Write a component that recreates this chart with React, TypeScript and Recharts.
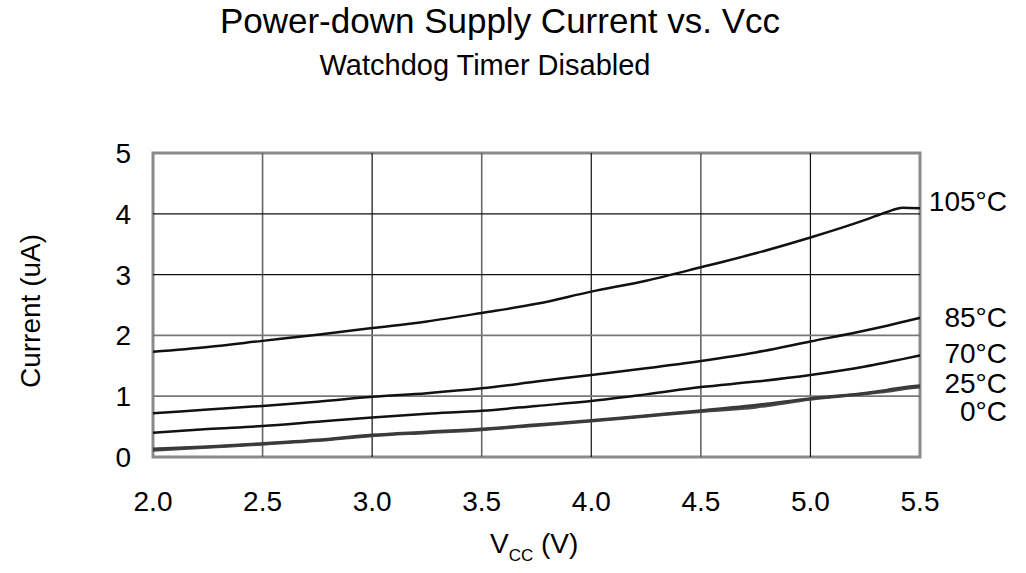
import React from 'react';
import { LineChart, Line, XAxis, YAxis, ReferenceLine, ReferenceArea, Customized } from 'recharts';

const vcc = [2.0, 2.25, 2.5, 2.75, 3.0, 3.25, 3.5, 3.75, 4.0, 4.25, 4.5, 4.75, 5.0, 5.25, 5.35, 5.42, 5.5];
const t105 = [1.73, 1.81, 1.91, 2.01, 2.12, 2.23, 2.37, 2.52, 2.72, 2.90, 3.12, 3.35, 3.61, 3.90, 4.03, 4.10, 4.09];
const t85 = [0.72, 0.78, 0.84, 0.91, 0.99, 1.05, 1.13, 1.24, 1.35, 1.46, 1.58, 1.72, 1.90, 2.08, 2.16, 2.22, 2.29];
const t70 = [0.40, 0.46, 0.51, 0.58, 0.65, 0.71, 0.76, 0.84, 0.92, 1.03, 1.15, 1.24, 1.35, 1.49, 1.56, 1.61, 1.67];
const t25 = [0.13, 0.17, 0.22, 0.28, 0.36, 0.41, 0.46, 0.53, 0.60, 0.68, 0.76, 0.85, 0.96, 1.05, 1.10, 1.14, 1.17];
const t0 = [0.11, 0.16, 0.21, 0.27, 0.35, 0.40, 0.45, 0.52, 0.59, 0.67, 0.75, 0.82, 0.95, 1.04, 1.08, 1.12, 1.15];

const xTicks = [2.0, 2.5, 3.0, 3.5, 4.0, 4.5, 5.0, 5.5];
const yTicks = [0, 1, 2, 3, 4, 5];
const seriesLabels = ['105°C', '85°C', '70°C', '25°C', '0°C'];

const data = vcc.map((v, i) => ({ v, t105: t105[i], t85: t85[i], t70: t70[i], t25: t25[i], t0: t0[i] }));

const FONT = 'Liberation Sans, Arial, Helvetica, sans-serif';

const labelBaselines = [211, 327, 363, 393, 421];

function TextLayer() {
  return (
    <g fontFamily={FONT} fill="#000">
      <text x={500} y={33} fontSize={35} textAnchor="middle">Power-down Supply Current vs. Vcc</text>
      <text x={485} y={75} fontSize={29} textAnchor="middle">Watchdog Timer Disabled</text>
      <text x={30} y={311} fontSize={28} textAnchor="middle" dominantBaseline="central" transform="rotate(-90 30 311)">Current (uA)</text>
      <text x={490} y={553} fontSize={28}>
        V<tspan fontSize={17} dy={8}>CC</tspan><tspan dy={-8}> (V)</tspan>
      </text>
      {seriesLabels.map((s, i) => (
        <text key={s} x={1007} y={labelBaselines[i]} fontSize={28} textAnchor="end">{s}</text>
      ))}
    </g>
  );
}

export default function App() {
  return (
    <div style={{ position: 'absolute', left: 0, top: 0, width: 1026, height: 573, background: '#fff' }}>
      <LineChart width={1026} height={573} data={data} margin={{ top: 153, right: 106, bottom: 56, left: 93 }}>
        <XAxis
          dataKey="v"
          type="number"
          domain={[2, 5.5]}
          ticks={xTicks}
          tickFormatter={(t: number) => t.toFixed(1)}
          height={60}
          tickSize={0}
          tickMargin={34}
          axisLine={false}
          tick={{ fontSize: 28, fill: '#000', fontFamily: FONT }}
        />
        <YAxis
          type="number"
          domain={[0, 5]}
          ticks={yTicks}
          width={60}
          tickSize={0}
          tickMargin={22}
          axisLine={false}
          tick={{ fontSize: 28, fill: '#000', fontFamily: FONT }}
        />
        {xTicks.slice(1, -1).map((x, i) => (
          <ReferenceLine key={'gx' + x} x={x} stroke={i % 2 === 0 ? '#666' : '#111'} strokeWidth={i % 2 === 0 ? 1.6 : 1.2} />
        ))}
        {yTicks.slice(1, -1).map((y) => (
          <ReferenceLine key={'gy' + y} y={y} stroke={y <= 2 ? '#777' : '#111'} strokeWidth={y <= 2 ? 1.8 : 1.2} />
        ))}
        <ReferenceArea x1={2} x2={5.5} y1={0} y2={5} fill="none" stroke="#8a8a8a" strokeWidth={3} />
        <Line dataKey="t0" type="monotone" stroke="#4a4a4a" strokeWidth={3} dot={false} isAnimationActive={false} />
        <Line dataKey="t25" type="monotone" stroke="#3a3a3a" strokeWidth={3} dot={false} isAnimationActive={false} />
        <Line dataKey="t70" type="monotone" stroke="#111" strokeWidth={2.5} dot={false} isAnimationActive={false} />
        <Line dataKey="t85" type="monotone" stroke="#111" strokeWidth={2.5} dot={false} isAnimationActive={false} />
        <Line dataKey="t105" type="monotone" stroke="#111" strokeWidth={2.5} dot={false} isAnimationActive={false} />
        <Customized component={TextLayer} />
      </LineChart>
    </div>
  );
}
